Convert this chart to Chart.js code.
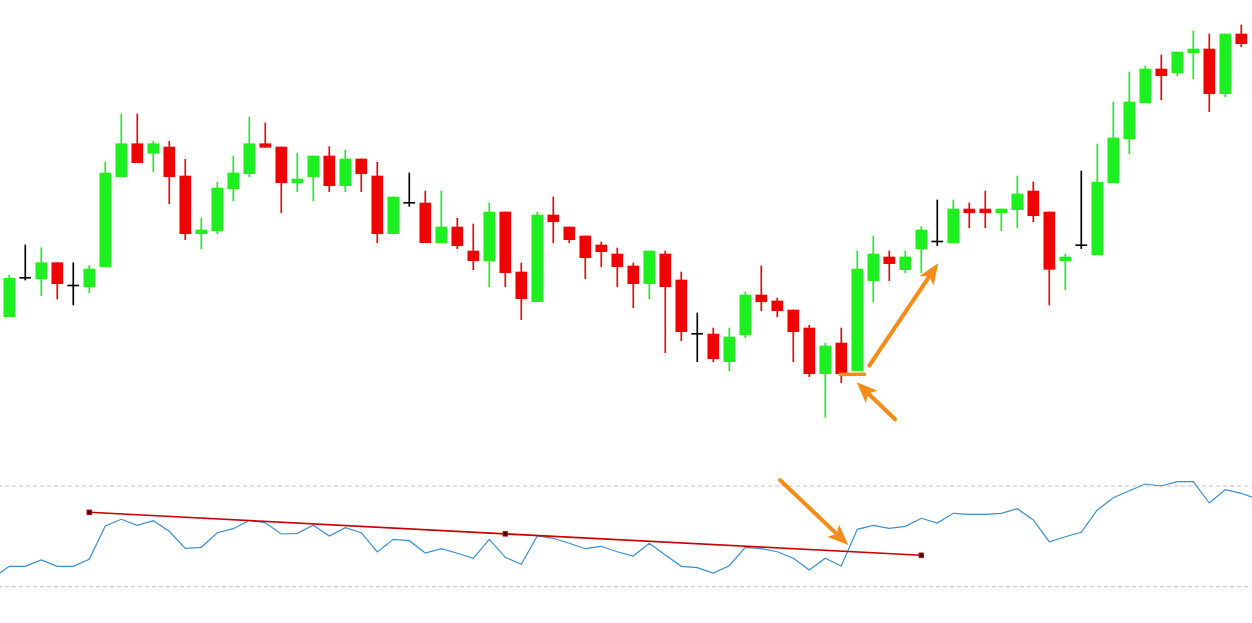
<!DOCTYPE html>
<html>
<head>
<meta charset="utf-8">
<script src="https://cdn.jsdelivr.net/npm/chart.js@4.4.0/dist/chart.umd.min.js"></script>
<style>
  html, body { margin: 0; padding: 0; background: #ffffff; overflow: hidden; }
  #wrap { width: 1252px; height: 623px; position: relative; }
  canvas { display: block; }
</style>
</head>
<body>
<div id="wrap"><canvas id="c"></canvas></div>
<script>
// ---------- DATA ----------
// bar index 0..77
const candleOpen = [
  1.1833,1.2217,1.2213,1.2373,1.2140,1.2133,1.2333,1.3233,1.3563,1.3467,
  1.3530,1.3240,1.2663,1.2693,1.3113,1.3263,1.3563,1.3530,1.3173,1.3233,
  1.3440,1.3143,1.3410,1.3240,1.2663,1.2967,1.2970,1.2573,1.2730,1.2490,
  1.2393,1.2880,1.2280,1.1983,1.2850,1.2730,1.2640,1.2550,1.2460,1.2340,
  1.2163,1.2460,1.2200,1.1657,1.1660,1.1383,1.1653,1.2050,1.1990,1.1900,
  1.1720,1.1263,1.1570,1.1293,1.2193,1.2430,1.2303,1.2510,1.2580,1.2573,
  1.2910,1.2910,1.2873,1.2903,1.3090,1.2880,1.2393,1.2543,1.2453,1.3173,
  1.3613,1.3973,1.4310,1.4273,1.4473,1.4510,1.4063,1.4660
];
const candleHigh = [
  1.2250,1.2550,1.2523,1.2373,1.2373,1.2343,1.3380,1.3860,1.3860,1.3587,
  1.3587,1.3407,1.2820,1.3177,1.3440,1.3830,1.3770,1.3530,1.3470,1.3440,
  1.3533,1.3500,1.3410,1.3377,1.3030,1.3270,1.3090,1.3090,1.2817,1.2760,
  1.2970,1.2880,1.2370,1.2880,1.3030,1.2730,1.2640,1.2580,1.2520,1.2370,
  1.2490,1.2490,1.2280,1.1870,1.1720,1.1720,1.2080,1.2340,1.2020,1.1900,
  1.1747,1.1567,1.1720,1.2490,1.2640,1.2490,1.2490,1.2733,1.3000,1.3000,
  1.2970,1.3090,1.2910,1.3240,1.3180,1.2880,1.2460,1.3290,1.3560,1.3980,
  1.4280,1.4340,1.4450,1.4480,1.4690,1.4660,1.4660,1.4750
];
const candleLow = [
  1.1833,1.2200,1.2043,1.2010,1.1950,1.2073,1.2333,1.3233,1.3373,1.3283,
  1.2963,1.2603,1.2513,1.2663,1.2993,1.3233,1.3527,1.2873,1.3083,1.2993,
  1.3083,1.3083,1.3083,1.2573,1.2663,1.2937,1.2573,1.2573,1.2513,1.2303,
  1.2133,1.2133,1.1803,1.1983,1.2573,1.2573,1.2213,1.2333,1.2133,1.1923,
  1.2013,1.1473,1.1593,1.1383,1.1383,1.1293,1.1623,1.1893,1.1833,1.1383,
  1.1233,1.0827,1.1173,1.1293,1.1983,1.2193,1.2273,1.2273,1.2543,1.2573,
  1.2723,1.2723,1.2693,1.2723,1.2783,1.1950,1.2103,1.2513,1.2453,1.3173,
  1.3463,1.3973,1.4003,1.4243,1.4213,1.3883,1.4033,1.4533
];
const candleClose = [
  1.2217,1.2217,1.2373,1.2163,1.2140,1.2310,1.3270,1.3563,1.3373,1.3563,
  1.3233,1.2663,1.2700,1.3120,1.3270,1.3563,1.3527,1.3173,1.3210,1.3440,
  1.3143,1.3410,1.3263,1.2663,1.3030,1.2967,1.2573,1.2730,1.2543,1.2393,
  1.2880,1.2273,1.2013,1.2850,1.2783,1.2603,1.2423,1.2483,1.2333,1.2163,
  1.2490,1.2133,1.1683,1.1657,1.1413,1.1630,1.2050,1.1983,1.1893,1.1683,
  1.1263,1.1540,1.1263,1.2310,1.2460,1.2363,1.2430,1.2700,1.2580,1.2910,
  1.2873,1.2873,1.2910,1.3060,1.2843,1.2307,1.2430,1.2543,1.3180,1.3620,
  1.3980,1.4310,1.4243,1.4480,1.4510,1.4063,1.4660,1.4563
];
// oscillator, starting one bar before bar 0 and ending one bar after bar 77
const oscStart = -1;
const oscillator = [
  33.46,
  38.10,38.10,40.61,38.10,38.10,40.88,54.11,56.77,54.39,56.22,
  52.01,45.25,45.65,51.45,53.04,56.38,55.42,50.93,51.21,54.39,
  50.14,53.44,51.45,43.78,48.83,48.27,43.39,45.09,43.27,41.28,
  48.83,41.68,38.90,50.14,49.23,47.24,45.09,46.05,43.90,42.19,
  47.24,42.59,38.10,37.55,35.44,38.34,45.65,45.09,43.90,41.28,
  36.63,41.28,38.22,52.80,54.39,53.20,53.99,57.17,55.30,59.16,
  58.76,58.76,59.16,60.98,56.49,47.87,49.86,51.61,60.47,65.35,
  68.13,70.79,70.00,71.71,71.71,63.25,68.53,67.10,
  64.84
];
const oscLevels = [70, 30];
// trendline on the oscillator
const trendBars = [5, 31, 57];
const trendValues = [59.55, 51.00, 42.47];
// annotations (bar index, value)
const priceArrows = [
  { from: [55.36, 1.0807], to: [52.96, 1.1177] },
  { from: [53.75, 1.1343], to: [58.06, 1.2367] }
];
const oscArrows = [
  { from: [48.17, 72.38], to: [52.44, 46.56] }
];
const markLevel = { fromBar: 51.86, toBar: 53.54, value: 1.1257 };

// ---------- BUILD ----------
const GREEN = '#1fee1f', RED = '#f00000', BLACK = '#000000', ORANGE = '#f78b17';
const n = candleOpen.length;
const colors = [];
const wickData = [], bodyData = [];
for (let i = 0; i < n; i++) {
  const o = candleOpen[i], c = candleClose[i];
  colors.push(c > o ? GREEN : (c < o ? RED : BLACK));
  wickData.push({ x: i, y: [candleLow[i], candleHigh[i]] });
  bodyData.push({ x: i, y: [o, c] });
}
const oscData = oscillator.map((v, k) => ({ x: oscStart + k, y: v }));
const xMin = -0.58, xMax = 77.67;

const datasets = [
  { type: 'line', label: 'mark', data: [{x: markLevel.fromBar, y: markLevel.value}, {x: markLevel.toBar, y: markLevel.value}],
    yAxisID: 'y', borderColor: ORANGE, borderWidth: 3.5, pointRadius: 0, order: 0, borderCapStyle: 'butt' },
  { type: 'bar', label: 'body', data: bodyData, backgroundColor: colors, borderWidth: 0,
    barThickness: 11, minBarLength: 1, grouped: false, yAxisID: 'y', order: 2 },
  { type: 'bar', label: 'wick', data: wickData, backgroundColor: colors, borderWidth: 0,
    barThickness: 1, grouped: false, yAxisID: 'y', order: 3 },
  { type: 'line', label: 'osc', data: oscData, yAxisID: 'y2', borderColor: '#3b8fd2', borderWidth: 1.2,
    pointRadius: 0, tension: 0, order: 2 },
  { type: 'line', label: 'trend', data: trendBars.map((b, k) => ({ x: b, y: trendValues[k] })), yAxisID: 'y2',
    borderColor: '#c80000', borderWidth: 1.6, pointStyle: 'rect', pointRadius: 3.2,
    pointBackgroundColor: '#4a0000', pointBorderColor: '#c80000', pointBorderWidth: 1, tension: 0, order: 1 }
];
oscLevels.forEach(l => datasets.push({ type: 'line', label: 'level', data: [{x: xMin - 1, y: l}, {x: xMax + 1, y: l}],
  yAxisID: 'y2', borderColor: '#c4c4c4', borderWidth: 1, borderDash: [4, 3], pointRadius: 0, order: 5 }));
priceArrows.forEach(a => datasets.push({ type: 'line', label: 'arrow', isArrow: true,
  data: [{x: a.from[0], y: a.from[1]}, {x: a.to[0], y: a.to[1]}], yAxisID: 'y',
  borderColor: ORANGE, showLine: false, pointRadius: 0, order: 0 }));
oscArrows.forEach(a => datasets.push({ type: 'line', label: 'arrow', isArrow: true,
  data: [{x: a.from[0], y: a.from[1]}, {x: a.to[0], y: a.to[1]}], yAxisID: 'y2',
  borderColor: ORANGE, showLine: false, pointRadius: 0, order: 0 }));

const arrowPlugin = {
  id: 'arrows',
  afterDatasetsDraw(chart) {
    const ctx = chart.ctx;
    chart.data.datasets.forEach((ds, i) => {
      if (!ds.isArrow) return;
      const meta = chart.getDatasetMeta(i);
      const p0 = meta.data[0], p1 = meta.data[1];
      const dx = p1.x - p0.x, dy = p1.y - p0.y, len = Math.hypot(dx, dy);
      const ux = dx / len, uy = dy / len;
      const headLen = 21, headW = 8.5;
      const bx = p1.x - ux * headLen, by = p1.y - uy * headLen;
      ctx.save();
      ctx.strokeStyle = ds.borderColor;
      ctx.fillStyle = ds.borderColor;
      ctx.lineWidth = 4;
      ctx.lineCap = 'round';
      ctx.beginPath();
      ctx.moveTo(p0.x, p0.y);
      ctx.lineTo(bx + ux * 6, by + uy * 6);
      ctx.stroke();
      ctx.beginPath();
      ctx.moveTo(p1.x, p1.y);
      ctx.lineTo(bx - uy * headW, by + ux * headW);
      ctx.lineTo(bx + ux * 5, by + uy * 5);
      ctx.lineTo(bx + uy * headW, by - ux * headW);
      ctx.closePath();
      ctx.fill();
      ctx.restore();
    });
  }
};

new Chart(document.getElementById('c'), {
  type: 'bar',
  data: { datasets },
  options: {
    responsive: true,
    maintainAspectRatio: false,
    animation: false,
    layout: { padding: 0, autoPadding: false },
    plugins: { legend: { display: false }, tooltip: { enabled: false } },
    scales: {
      x: { type: 'linear', min: xMin, max: xMax, offset: false, display: false, grid: { display: false } },
      y: { type: 'linear', min: 0.877, max: 1.5, display: false, grid: { display: false } },
      y2: { type: 'linear', min: 15.58, max: 263.05, display: false, grid: { display: false } }
    }
  },
  plugins: [arrowPlugin]
});
</script>
</body>
</html>
